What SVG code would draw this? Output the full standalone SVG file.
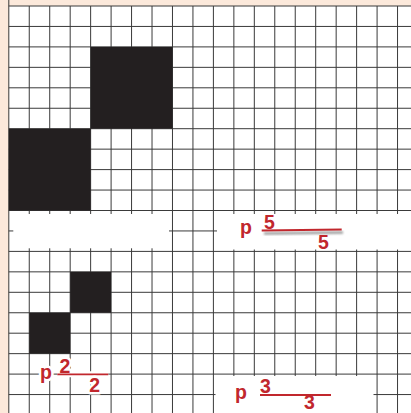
<svg xmlns="http://www.w3.org/2000/svg" width="411" height="413" viewBox="0 0 411 413">
<style>
.grid{fill:none;stroke:#3a3a3a;stroke-width:1}
.blk{fill:#231f20}
.wht{fill:#ffffff}
.lbl{font-family:"Liberation Sans",Arial,sans-serif;font-weight:bold;font-size:19.5px;fill:#c1272d}
.halo{stroke:#ffffff;stroke-width:5;stroke-linejoin:round;paint-order:stroke}
.frac{stroke:#c1272d;stroke-width:1.8;fill:none}
.shd{stroke:#9a9a9a;stroke-width:2.5;fill:none;filter:url(#blur)}
</style>
<defs>
<filter id="blur" x="-10%" y="-200%" width="120%" height="500%"><feGaussianBlur stdDeviation="1.2"/></filter>
</defs>
<rect x="0" y="0" width="411" height="413" fill="#fce9db"/>
<rect x="8.8" y="6" width="403" height="408" fill="#ffffff"/>
<g id="grid" class="grid">
<path d="M8.8 0V413M29.26 6V413M49.72 6V413M70.18 6V413M90.64 6V413M111.1 6V413M131.56 6V413M152.02 6V413M172.48 6V413M192.94 6V413M213.4 6V413M233.86 6V413M254.32 6V413M274.78 6V413M295.24 6V413M315.7 6V413M336.16 6V413M356.62 6V413M377.08 6V413M397.54 6V413"/>
<path d="M8.8 6H411M8.8 26.45H411M8.8 46.9H411M8.8 67.35H411M8.8 87.8H411M8.8 108.25H411M8.8 128.7H411M8.8 149.15H411M8.8 169.6H411M8.8 190.05H411M8.8 210.5H411M8.8 230.95H411M8.8 251.4H411M8.8 271.85H411M8.8 292.3H411M8.8 312.75H411M8.8 333.2H411M8.8 353.65H411M8.8 374.1H411M8.8 394.55H411"/>
</g>
<g id="squares">
<rect id="sqA" class="blk" x="90.64" y="46.9" width="81.84" height="81.8"/>
<rect id="sqB" class="blk" x="8.8" y="128.7" width="81.84" height="81.8"/>
<rect id="sqC" class="blk" x="70.18" y="271.85" width="40.92" height="40.9"/>
<rect id="sqD" class="blk" x="29.26" y="312.75" width="40.92" height="40.9"/>
</g>
<g id="blanks">
<rect class="wht" x="13.3" y="214" width="155.7" height="34.3"/>
<rect class="wht" x="217" y="214" width="194" height="35.5"/>
<rect class="wht" x="215.5" y="376" width="158" height="37"/>
</g>
<g id="label-5">
<text class="lbl" x="240" y="234">p</text>
<text class="lbl" x="264" y="228.5">5</text>
<line class="shd" x1="264" y1="233.5" x2="343" y2="232.5"/>
<line class="frac" x1="261.7" y1="230.5" x2="341.7" y2="229.5"/>
<text class="lbl" x="318" y="249.3">5</text>
</g>
<g id="label-2">
<line x1="57.3" y1="374.3" x2="108.3" y2="374.3" stroke="#ffffff" stroke-width="6"/>
<text class="lbl halo" x="40" y="379">p</text>
<text class="lbl halo" x="59.5" y="373.3">2</text>
<line class="shd" x1="60" y1="377.5" x2="110" y2="377.5"/>
<line class="frac" x1="57.3" y1="374.3" x2="108.3" y2="374.3"/>
<text class="lbl halo" x="89.3" y="391.5">2</text>
</g>
<g id="label-3">
<text class="lbl" x="235" y="398.5">p</text>
<text class="lbl" x="260" y="392.7">3</text>
<line class="shd" x1="263" y1="398" x2="333" y2="398"/>
<line class="frac" x1="260" y1="395" x2="331" y2="395"/>
<text class="lbl" x="304" y="409">3</text>
</g>
</svg>
